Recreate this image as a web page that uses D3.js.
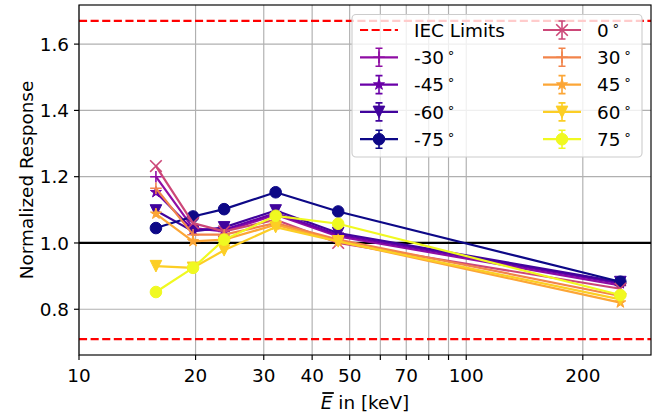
<!DOCTYPE html>
<html><head><meta charset="utf-8">
<script src="https://cdn.jsdelivr.net/npm/d3@7"></script>
<style>body{margin:0;background:#fff} text{font-family:"DejaVu Sans",sans-serif;fill:#000}</style>
</head><body><svg id="c" width="670" height="418"></svg>
<script>
// ---- data ----
const energies = [15.8, 19.7, 23.7, 32.2, 46.7, 250];
const angles = [-30, -45, -60, -75, 0, 30, 45, 60, 75];
const markers = ["+", "*", "v", "o", "x", "+", "*", "v", "o"];
const resp_m30 = [1.200, 1.045, 1.035, 1.085, 1.020, 0.872];
const resp_m45 = [1.153, 1.040, 1.040, 1.090, 1.025, 0.878];
const resp_m60 = [1.098, 1.035, 1.047, 1.098, 1.030, 0.882];
const resp_m75 = [1.045, 1.080, 1.102, 1.153, 1.095, 0.883];
const resp_0   = [1.232, 1.060, 1.035, 1.070, 1.000, 0.862];
const resp_30  = [1.165, 1.025, 1.025, 1.060, 1.010, 0.840];
const resp_45  = [1.088, 1.005, 1.010, 1.055, 1.005, 0.820];
const resp_60  = [0.930, 0.925, 0.978, 1.048, 1.005, 0.830];
const resp_75  = [0.852, 0.925, 1.010, 1.082, 1.058, 0.843];
const responses = [resp_m30, resp_m45, resp_m60, resp_m75, resp_0, resp_30, resp_45, resp_60, resp_75];
const iecLimits = [0.71, 1.67];
const referenceLine = 1.0;
const xTicks = [10, 20, 30, 40, 50, 60, 70, 80, 90, 100, 200];
const xTickLabels = ["10", "20", "30", "40", "50", "", "70", "", "", "100", "200"];
const yTicks = [0.8, 1.0, 1.2, 1.4, 1.6];
const yTickLabels = ["0.8", "1.0", "1.2", "1.4", "1.6"];
const xDomain = [10, 300];
const yDomain = [0.662, 1.718];

// ---- layout ----
const L = 79, R = 651, T = 5, B = 355;
const FS = 18.4;
const svg = d3.select("#c");
const x = d3.scaleLog().domain(xDomain).range([L, R]);
const y = d3.scaleLinear().domain(yDomain).range([B, T]);
const cScale = d3.scaleSequential(d3.interpolatePlasma).domain([-75, 75]);
const color = i => cScale(angles[i]);

const g = svg.append("g");
// grid
g.selectAll(".gx").data(xTicks).join("line")
  .attr("x1", d => x(d)).attr("x2", d => x(d)).attr("y1", T).attr("y2", B)
  .attr("stroke", "#b0b0b0").attr("stroke-width", 1.16);
g.selectAll(".gy").data(yTicks).join("line")
  .attr("x1", L).attr("x2", R).attr("y1", d => y(d)).attr("y2", d => y(d))
  .attr("stroke", "#b0b0b0").attr("stroke-width", 1.16);

// IEC limits & reference
g.selectAll(".iec").data(iecLimits).join("line")
  .attr("x1", L).attr("x2", R).attr("y1", d => y(d)).attr("y2", d => y(d))
  .attr("stroke", "#ff0000").attr("stroke-width", 2.2).attr("stroke-dasharray", "8.1,3.5");
g.append("line").attr("x1", L).attr("x2", R).attr("y1", y(referenceLine)).attr("y2", y(referenceLine))
  .attr("stroke", "#000").attr("stroke-width", 2.2);

// markers
const MS = 11.6;
function drawMarker(sel, m, c) {
  const h = MS / 2;
  if (m === "o") sel.append("circle").attr("r", h).attr("fill", c).attr("stroke", c).attr("stroke-width", 1);
  else if (m === "v") sel.append("path").attr("d", `M${-h},${-h}L${h},${-h}L0,${h}Z`).attr("fill", c).attr("stroke", c).attr("stroke-width", 1);
  else if (m === "*") {
    const pts = [];
    for (let k = 0; k < 10; k++) {
      const r = k % 2 === 0 ? h : h * 0.381966;
      const a = -Math.PI / 2 + k * Math.PI / 5;
      pts.push([r * Math.cos(a), r * Math.sin(a)]);
    }
    sel.append("path").attr("d", "M" + pts.map(p => p.join(",")).join("L") + "Z").attr("fill", c).attr("stroke", c).attr("stroke-width", 1);
  } else if (m === "+") {
    sel.append("path").attr("d", `M${-h},0L${h},0M0,${-h}L0,${h}`).attr("stroke", c).attr("stroke-width", 1.6).attr("fill", "none");
  } else if (m === "x") {
    sel.append("path").attr("d", `M${-h},${-h}L${h},${h}M${-h},${h}L${h},${-h}`).attr("stroke", c).attr("stroke-width", 1.6).attr("fill", "none");
  }
}

const line = d3.line().x(d => x(d[0])).y(d => y(d[1]));
responses.forEach((vals, i) => {
  const c = color(i);
  const pts = energies.map((e, j) => [e, vals[j]]);
  const sg = g.append("g");
  sg.append("path").attr("d", line(pts)).attr("fill", "none").attr("stroke", c).attr("stroke-width", 2.2).attr("stroke-linejoin", "round");
  pts.forEach(p => {
    const mg = sg.append("g").attr("transform", `translate(${x(p[0])},${y(p[1])})`);
    drawMarker(mg, markers[i], c);
  });
});

// spines
g.append("rect").attr("x", L).attr("y", T).attr("width", R - L).attr("height", B - T)
  .attr("fill", "none").attr("stroke", "#000").attr("stroke-width", 1.16);

// ticks
g.selectAll(".tx").data(xTicks).join("line")
  .attr("x1", d => x(d)).attr("x2", d => x(d)).attr("y1", B).attr("y2", B + 5)
  .attr("stroke", "#000").attr("stroke-width", 1.16);
g.selectAll(".txl").data(xTicks).join("text")
  .attr("x", d => x(d)).attr("y", 382).attr("text-anchor", "middle").attr("font-size", FS)
  .text((d, i) => xTickLabels[i]);
g.selectAll(".ty").data(yTicks).join("line")
  .attr("x1", L - 5).attr("x2", L).attr("y1", d => y(d)).attr("y2", d => y(d))
  .attr("stroke", "#000").attr("stroke-width", 1.16);
g.selectAll(".tyl").data(yTicks).join("text")
  .attr("x", L - 10).attr("y", d => y(d) + 6.6).attr("text-anchor", "end").attr("font-size", FS)
  .text((d, i) => yTickLabels[i]);

// axis labels
svg.append("text").attr("transform", `translate(33,${(T + B) / 2}) rotate(-90)`)
  .attr("text-anchor", "middle").attr("font-size", FS).text("Normalized Response");
const xl = svg.append("text").attr("y", 409).attr("font-size", FS);
xl.append("tspan").attr("font-style", "italic").text("E");
xl.append("tspan").text(" in [keV]");
const wtot = xl.node().getComputedTextLength();
const x0 = (L + R) / 2 - wtot / 2;
xl.attr("x", x0);
svg.append("line").attr("x1", x0 + 1.5).attr("x2", x0 + 13).attr("y1", 393).attr("y2", 393)
  .attr("stroke", "#000").attr("stroke-width", 1.8);

// legend
const lg = svg.append("g");
lg.append("rect").attr("x", 352).attr("y", 14.5).attr("width", 290).attr("height", 142.5).attr("rx", 4)
  .attr("fill", "#fff").attr("fill-opacity", 0.8).attr("stroke", "#cccccc").attr("stroke-width", 1.1);
const rowY = k => 30 + k * 27.3;
const entries = [{label: "IEC Limits", iec: true}].concat(angles.map((a, i) => ({label: String(a), i})));
entries.forEach((e, k) => {
  const col = k < 5 ? 0 : 1, row = k % 5;
  const hx = col === 0 ? 360 : 543, tx = col === 0 ? 414 : 597;
  const yy = rowY(row);
  if (e.iec) {
    lg.append("line").attr("x1", hx).attr("x2", hx + 38).attr("y1", yy).attr("y2", yy)
      .attr("stroke", "#ff0000").attr("stroke-width", 2.2).attr("stroke-dasharray", "8.1,3.5");
    lg.append("text").attr("x", tx).attr("y", yy + 6.6).attr("font-size", FS).text(e.label);
  } else {
    const c = color(e.i);
    const cx = hx + 19;
    lg.append("line").attr("x1", hx).attr("x2", hx + 38).attr("y1", yy).attr("y2", yy).attr("stroke", c).attr("stroke-width", 2.2);
    lg.append("path").attr("d", `M${cx},${yy - 9}L${cx},${yy + 9}M${cx - 3.5},${yy - 9}L${cx + 3.5},${yy - 9}M${cx - 3.5},${yy + 9}L${cx + 3.5},${yy + 9}`)
      .attr("stroke", c).attr("stroke-width", 1.6).attr("fill", "none");
    const mg = lg.append("g").attr("transform", `translate(${cx},${yy})`);
    drawMarker(mg, markers[e.i], c);
    const t = lg.append("text").attr("x", tx).attr("y", yy + 6.6).attr("font-size", FS);
    t.append("tspan").text(e.label);
    t.append("tspan").attr("dx", 3).attr("dy", -7).attr("font-size", 13).text("\u2218");
  }
});
</script></body></html>
